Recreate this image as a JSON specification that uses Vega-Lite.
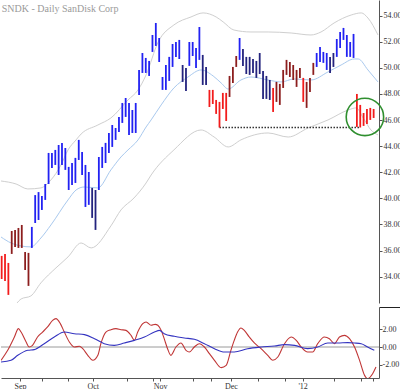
{
  "$schema": "https://vega.github.io/schema/vega-lite/v6.json",
  "padding": 0,
  "spacing": 0,
  "background": "white",
  "config": {
    "view": {"stroke": null},
    "font": "Liberation Serif",
    "axis": {"grid": false, "title": null, "labelFont": "Liberation Serif", "labelFontSize": 8, "labelColor": "#333", "domainColor": "#555", "tickColor": "#555", "labelOverlap": false}
  },
  "datasets": {
    "bars": [
      {"d":0,"hi":35.59,"lo":33.82,"t":"dn"},{"d":1,"hi":35.74,"lo":33.67,"t":"dn"},{"d":2,"hi":35.05,"lo":32.60,"t":"dn"},
      {"d":3,"hi":37.50,"lo":35.74,"t":"dn2"},{"d":4,"hi":37.58,"lo":36.28,"t":"dn2"},{"d":5,"hi":37.73,"lo":36.20,"t":"dn2"},
      {"d":6,"hi":37.96,"lo":36.20,"t":"dn2"},{"d":7,"hi":35.89,"lo":34.51,"t":"dn2"},{"d":8,"hi":35.82,"lo":33.29,"t":"dn2"},
      {"d":9,"hi":37.81,"lo":36.20,"t":"up"},{"d":10,"hi":40.25,"lo":38.11,"t":"up"},{"d":11,"hi":40.48,"lo":38.34,"t":"up"},
      {"d":12,"hi":40.18,"lo":39.11,"t":"up"},{"d":13,"hi":41.10,"lo":39.88,"t":"up"},{"d":14,"hi":43.48,"lo":41.10,"t":"up"},
      {"d":15,"hi":43.48,"lo":42.33,"t":"up"},{"d":16,"hi":43.71,"lo":42.56,"t":"up"},{"d":17,"hi":44.09,"lo":41.79,"t":"up"},
      {"d":18,"hi":44.25,"lo":42.56,"t":"up"},{"d":19,"hi":43.86,"lo":42.18,"t":"up"},{"d":20,"hi":42.41,"lo":40.64,"t":"up"},
      {"d":21,"hi":42.71,"lo":41.03,"t":"up"},{"d":22,"hi":43.10,"lo":41.18,"t":"up"},{"d":23,"hi":44.48,"lo":42.94,"t":"up"},
      {"d":24,"hi":43.56,"lo":41.79,"t":"up"},{"d":25,"hi":42.56,"lo":39.34,"t":"up"},{"d":26,"hi":42.02,"lo":39.50,"t":"up"},
      {"d":27,"hi":40.80,"lo":38.50,"t":"up2"},{"d":28,"hi":40.64,"lo":37.58,"t":"up2"},{"d":29,"hi":43.17,"lo":40.64,"t":"up"},
      {"d":30,"hi":43.94,"lo":42.33,"t":"up"},{"d":31,"hi":44.25,"lo":42.71,"t":"up"},{"d":32,"hi":45.01,"lo":43.48,"t":"up"},
      {"d":33,"hi":45.62,"lo":43.94,"t":"up"},{"d":34,"hi":45.39,"lo":44.48,"t":"up"},{"d":35,"hi":46.24,"lo":45.09,"t":"up"},
      {"d":36,"hi":47.31,"lo":45.78,"t":"up"},{"d":37,"hi":47.69,"lo":46.24,"t":"up"},{"d":38,"hi":47.31,"lo":44.86,"t":"up"},
      {"d":39,"hi":46.77,"lo":45.01,"t":"up"},{"d":40,"hi":47.31,"lo":45.01,"t":"up"},{"d":41,"hi":49.84,"lo":47.92,"t":"up"},
      {"d":42,"hi":51.14,"lo":49.61,"t":"up"},{"d":43,"hi":50.76,"lo":49.61,"t":"up"},{"d":44,"hi":50.53,"lo":49.38,"t":"up"},
      {"d":45,"hi":52.52,"lo":51.22,"t":"up"},{"d":46,"hi":53.44,"lo":51.68,"t":"up"},{"d":47,"hi":52.29,"lo":50.45,"t":"up"},
      {"d":48,"hi":49.30,"lo":48.31,"t":"up"},{"d":49,"hi":50.22,"lo":48.31,"t":"up"},{"d":50,"hi":50.84,"lo":49.00,"t":"up"},
      {"d":51,"hi":51.83,"lo":50.07,"t":"up"},{"d":52,"hi":51.98,"lo":50.84,"t":"up"},{"d":53,"hi":52.14,"lo":50.68,"t":"up"},
      {"d":54,"hi":50.22,"lo":48.92,"t":"up2"},{"d":55,"hi":49.99,"lo":48.23,"t":"up2"},{"d":56,"hi":51.98,"lo":50.15,"t":"up"},
      {"d":57,"hi":51.98,"lo":50.91,"t":"up"},{"d":58,"hi":51.52,"lo":49.99,"t":"up"},{"d":59,"hi":53.13,"lo":50.61,"t":"up"},
      {"d":60,"hi":50.99,"lo":48.69,"t":"up2"},{"d":61,"hi":50.07,"lo":48.69,"t":"up2"},{"d":62,"hi":48.31,"lo":47.00,"t":"dn"},
      {"d":63,"hi":48.31,"lo":47.23,"t":"dn"},{"d":64,"hi":47.54,"lo":46.47,"t":"dn"},{"d":65,"hi":47.39,"lo":45.43,"t":"dn"},
      {"d":66,"hi":48.08,"lo":46.85,"t":"dn"},{"d":67,"hi":48.08,"lo":45.93,"t":"dn"},{"d":68,"hi":49.38,"lo":47.77,"t":"dn2"},
      {"d":69,"hi":50.07,"lo":48.84,"t":"dn2"},{"d":70,"hi":50.91,"lo":50.07,"t":"dn2"},{"d":71,"hi":52.29,"lo":50.61,"t":"up"},
      {"d":72,"hi":51.45,"lo":50.15,"t":"up2"},{"d":73,"hi":50.84,"lo":49.53,"t":"up2"},{"d":74,"hi":50.84,"lo":49.46,"t":"up2"},
      {"d":75,"hi":50.68,"lo":49.61,"t":"up2"},{"d":76,"hi":50.53,"lo":49.23,"t":"up2"},{"d":77,"hi":51.14,"lo":49.53,"t":"up2"},
      {"d":78,"hi":49.76,"lo":47.62,"t":"up2"},{"d":79,"hi":49.38,"lo":47.62,"t":"up2"},{"d":80,"hi":49.07,"lo":47.54,"t":"up2"},
      {"d":81,"hi":48.46,"lo":46.62,"t":"dn"},{"d":82,"hi":48.92,"lo":47.39,"t":"dn2"},{"d":83,"hi":48.77,"lo":47.16,"t":"dn2"},
      {"d":84,"hi":49.84,"lo":48.46,"t":"dn2"},{"d":85,"hi":50.61,"lo":49.46,"t":"dn2"},{"d":86,"hi":50.45,"lo":49.30,"t":"dn2"},
      {"d":87,"hi":50.22,"lo":49.07,"t":"dn2"},{"d":88,"hi":49.84,"lo":48.54,"t":"dn2"},{"d":89,"hi":49.99,"lo":49.23,"t":"dn2"},
      {"d":90,"hi":49.23,"lo":47.39,"t":"dn"},{"d":91,"hi":48.92,"lo":46.93,"t":"dn2"},{"d":92,"hi":49.23,"lo":48.15,"t":"dn2"},
      {"d":93,"hi":50.38,"lo":49.46,"t":"dn2"},{"d":94,"hi":51.14,"lo":50.07,"t":"up"},{"d":95,"hi":51.60,"lo":50.45,"t":"up"},
      {"d":96,"hi":51.22,"lo":50.38,"t":"up"},{"d":97,"hi":51.14,"lo":49.84,"t":"up"},{"d":98,"hi":50.84,"lo":49.61,"t":"up2"},
      {"d":99,"hi":51.14,"lo":50.07,"t":"up2"},{"d":100,"hi":52.21,"lo":50.84,"t":"up"},{"d":101,"hi":52.75,"lo":51.52,"t":"up"},
      {"d":102,"hi":53.06,"lo":52.14,"t":"up"},{"d":103,"hi":52.52,"lo":50.84,"t":"up"},{"d":104,"hi":51.98,"lo":50.84,"t":"up"},
      {"d":105,"hi":52.60,"lo":50.76,"t":"up"},{"d":106,"hi":48.00,"lo":45.47,"t":"dn"},{"d":107,"hi":47.16,"lo":45.43,"t":"dn"},
      {"d":108,"hi":46.54,"lo":45.55,"t":"dn"},{"d":109,"hi":46.85,"lo":45.70,"t":"dn"},{"d":110,"hi":46.93,"lo":46.01,"t":"dn"},
      {"d":111,"hi":46.85,"lo":46.16,"t":"dn"}
    ],
    "bands": [
      {"d":-0.2,"v":41.33,"band":"upper"},{"d":4.3,"v":41.10,"band":"upper"},{"d":7.8,"v":40.72,"band":"upper"},{"d":11.7,"v":40.80,"band":"upper"},
      {"d":14.7,"v":41.41,"band":"upper"},{"d":17.7,"v":42.56,"band":"upper"},{"d":19.8,"v":43.71,"band":"upper"},{"d":22.2,"v":44.48,"band":"upper"},
      {"d":23.7,"v":44.93,"band":"upper"},{"d":28.7,"v":45.62,"band":"upper"},{"d":32.6,"v":46.16,"band":"upper"},{"d":37.7,"v":47.54,"band":"upper"},
      {"d":40.7,"v":48.31,"band":"upper"},{"d":43.1,"v":49.46,"band":"upper"},{"d":46.7,"v":51.98,"band":"upper"},{"d":51.4,"v":53.29,"band":"upper"},
      {"d":56.5,"v":53.90,"band":"upper"},{"d":60.1,"v":54.21,"band":"upper"},{"d":64.0,"v":53.90,"band":"upper"},{"d":66.1,"v":53.52,"band":"upper"},
      {"d":69.3,"v":52.90,"band":"upper"},{"d":74.4,"v":52.75,"band":"upper"},{"d":79.5,"v":52.75,"band":"upper"},{"d":86.4,"v":52.67,"band":"upper"},
      {"d":92.3,"v":52.52,"band":"upper"},{"d":95.3,"v":52.75,"band":"upper"},{"d":99.2,"v":53.44,"band":"upper"},{"d":104.3,"v":54.05,"band":"upper"},
      {"d":107.3,"v":54.21,"band":"upper"},{"d":109.3,"v":53.82,"band":"upper"},{"d":112.3,"v":52.52,"band":"upper"},
      {"d":-0.2,"v":37.04,"band":"mid"},{"d":2.8,"v":36.58,"band":"mid"},{"d":5.8,"v":36.35,"band":"mid"},{"d":8.7,"v":36.28,"band":"mid"},
      {"d":11.7,"v":36.96,"band":"mid"},{"d":14.7,"v":37.96,"band":"mid"},{"d":19.8,"v":39.88,"band":"mid"},{"d":22.2,"v":40.64,"band":"mid"},
      {"d":24.6,"v":40.87,"band":"mid"},{"d":28.7,"v":40.80,"band":"mid"},{"d":32.6,"v":42.18,"band":"mid"},{"d":35.6,"v":43.17,"band":"mid"},
      {"d":37.7,"v":43.71,"band":"mid"},{"d":40.7,"v":44.48,"band":"mid"},{"d":43.1,"v":45.47,"band":"mid"},{"d":44.6,"v":46.01,"band":"mid"},
      {"d":47.6,"v":47.16,"band":"mid"},{"d":51.4,"v":48.46,"band":"mid"},{"d":55.6,"v":49.30,"band":"mid"},{"d":59.5,"v":49.84,"band":"mid"},
      {"d":63.1,"v":49.38,"band":"mid"},{"d":65.5,"v":48.84,"band":"mid"},{"d":67.6,"v":48.38,"band":"mid"},{"d":71.4,"v":49.07,"band":"mid"},
      {"d":74.4,"v":49.30,"band":"mid"},{"d":79.5,"v":49.07,"band":"mid"},{"d":83.4,"v":48.92,"band":"mid"},{"d":87.3,"v":49.15,"band":"mid"},
      {"d":92.3,"v":49.07,"band":"mid"},{"d":97.4,"v":49.69,"band":"mid"},{"d":101.3,"v":50.22,"band":"mid"},{"d":105.2,"v":50.68,"band":"mid"},
      {"d":106.4,"v":50.68,"band":"mid"},{"d":109.3,"v":49.84,"band":"mid"},{"d":112.3,"v":48.92,"band":"mid"},
      {"d":4.5,"v":31.95,"band":"lower"},{"d":5.8,"v":32.29,"band":"lower"},{"d":8.7,"v":32.52,"band":"lower"},{"d":11.7,"v":33.52,"band":"lower"},
      {"d":16.2,"v":34.67,"band":"lower"},{"d":19.8,"v":35.51,"band":"lower"},{"d":23.7,"v":36.58,"band":"lower"},{"d":26.7,"v":36.20,"band":"lower"},
      {"d":32.6,"v":37.89,"band":"lower"},{"d":35.6,"v":39.11,"band":"lower"},{"d":39.5,"v":40.03,"band":"lower"},{"d":43.1,"v":41.18,"band":"lower"},
      {"d":44.6,"v":41.79,"band":"lower"},{"d":51.4,"v":43.71,"band":"lower"},{"d":59.5,"v":45.24,"band":"lower"},{"d":63.4,"v":44.70,"band":"lower"},
      {"d":67.6,"v":43.94,"band":"lower"},{"d":71.4,"v":44.48,"band":"lower"},{"d":79.5,"v":45.01,"band":"lower"},{"d":85.5,"v":44.70,"band":"lower"},
      {"d":91.4,"v":45.39,"band":"lower"},{"d":97.4,"v":46.01,"band":"lower"},{"d":103.4,"v":46.77,"band":"lower"},{"d":105.8,"v":46.93,"band":"lower"},
      {"d":107.9,"v":46.16,"band":"lower"},{"d":110.2,"v":45.24,"band":"lower"},{"d":112.3,"v":44.86,"band":"lower"}
    ],
    "support": [{"from": 65, "to": 107, "level": 45.43}],
    "highlight": [{"d": 108.4, "p": 46.24}],
    "osc": [
      {"d":-0.2,"v":-1.52,"s":"fast"},{"d":1.8,"v":-0.38,"s":"fast"},{"d":3.8,"v":1.14,"s":"fast"},{"d":5.0,"v":2.10,"s":"fast"},
      {"d":5.8,"v":1.71,"s":"fast"},{"d":7.3,"v":0.57,"s":"fast"},{"d":8.2,"v":0.0,"s":"fast"},{"d":9.2,"v":0.19,"s":"fast"},
      {"d":10.7,"v":1.14,"s":"fast"},{"d":12.2,"v":1.71,"s":"fast"},{"d":13.7,"v":2.29,"s":"fast"},{"d":15.2,"v":3.05,"s":"fast"},
      {"d":16.2,"v":3.24,"s":"fast"},{"d":17.5,"v":2.67,"s":"fast"},{"d":18.7,"v":1.71,"s":"fast"},{"d":20.2,"v":0.57,"s":"fast"},
      {"d":21.7,"v":0.0,"s":"fast"},{"d":23.2,"v":0.08,"s":"fast"},{"d":24.2,"v":-0.19,"s":"fast"},{"d":25.7,"v":-0.95,"s":"fast"},
      {"d":27.2,"v":-1.52,"s":"fast"},{"d":28.7,"v":-0.95,"s":"fast"},{"d":29.6,"v":0.38,"s":"fast"},{"d":31.1,"v":1.71,"s":"fast"},
      {"d":32.6,"v":1.98,"s":"fast"},{"d":34.1,"v":2.10,"s":"fast"},{"d":35.6,"v":1.98,"s":"fast"},{"d":37.1,"v":1.90,"s":"fast"},
      {"d":38.6,"v":1.33,"s":"fast"},{"d":39.6,"v":0.76,"s":"fast"},{"d":40.6,"v":1.71,"s":"fast"},{"d":42.1,"v":2.67,"s":"fast"},
      {"d":43.1,"v":2.86,"s":"fast"},{"d":44.6,"v":2.48,"s":"fast"},{"d":45.8,"v":2.59,"s":"fast"},{"d":46.6,"v":2.48,"s":"fast"},
      {"d":47.6,"v":1.90,"s":"fast"},{"d":48.5,"v":0.95,"s":"fast"},{"d":49.5,"v":-0.19,"s":"fast"},{"d":50.5,"v":-0.95,"s":"fast"},
      {"d":52.0,"v":0.0,"s":"fast"},{"d":53.5,"v":0.46,"s":"fast"},{"d":55.0,"v":-0.38,"s":"fast"},{"d":56.0,"v":-0.57,"s":"fast"},
      {"d":57.5,"v":0.0,"s":"fast"},{"d":59.0,"v":0.38,"s":"fast"},{"d":60.5,"v":0.0,"s":"fast"},{"d":62.0,"v":-0.76,"s":"fast"},
      {"d":63.5,"v":-1.52,"s":"fast"},{"d":65.5,"v":-2.36,"s":"fast"},{"d":67.0,"v":-2.10,"s":"fast"},{"d":68.4,"v":-0.38,"s":"fast"},
      {"d":69.4,"v":0.76,"s":"fast"},{"d":70.4,"v":1.71,"s":"fast"},{"d":71.4,"v":2.17,"s":"fast"},{"d":72.4,"v":1.90,"s":"fast"},
      {"d":73.9,"v":1.14,"s":"fast"},{"d":75.4,"v":0.46,"s":"fast"},{"d":77.4,"v":-0.19,"s":"fast"},{"d":79.4,"v":-0.95,"s":"fast"},
      {"d":80.9,"v":-1.52,"s":"fast"},{"d":82.4,"v":-1.14,"s":"fast"},{"d":84.4,"v":0.38,"s":"fast"},{"d":86.4,"v":1.14,"s":"fast"},
      {"d":87.9,"v":0.76,"s":"fast"},{"d":89.4,"v":0.0,"s":"fast"},{"d":91.3,"v":-0.57,"s":"fast"},{"d":92.8,"v":-0.57,"s":"fast"},
      {"d":94.3,"v":0.38,"s":"fast"},{"d":96.3,"v":1.14,"s":"fast"},{"d":97.8,"v":0.95,"s":"fast"},{"d":99.3,"v":0.38,"s":"fast"},
      {"d":100.8,"v":1.14,"s":"fast"},{"d":102.3,"v":1.33,"s":"fast"},{"d":103.8,"v":0.95,"s":"fast"},{"d":105.3,"v":0.0,"s":"fast"},
      {"d":106.8,"v":-1.52,"s":"fast"},{"d":108.3,"v":-3.24,"s":"fast"},{"d":109.2,"v":-3.62,"s":"fast"},{"d":110.7,"v":-3.05,"s":"fast"},
      {"d":111.7,"v":-2.29,"s":"fast"},
      {"d":-0.2,"v":-1.71,"s":"slow"},{"d":2.8,"v":-1.52,"s":"slow"},{"d":4.8,"v":-0.95,"s":"slow"},{"d":7.8,"v":-0.38,"s":"slow"},
      {"d":9.7,"v":-0.30,"s":"slow"},{"d":12.7,"v":0.38,"s":"slow"},{"d":15.7,"v":1.14,"s":"slow"},{"d":18.7,"v":1.71,"s":"slow"},
      {"d":21.7,"v":1.52,"s":"slow"},{"d":24.7,"v":1.41,"s":"slow"},{"d":27.7,"v":0.95,"s":"slow"},{"d":30.6,"v":0.38,"s":"slow"},
      {"d":33.6,"v":0.19,"s":"slow"},{"d":36.6,"v":0.46,"s":"slow"},{"d":39.6,"v":0.76,"s":"slow"},{"d":42.6,"v":1.14,"s":"slow"},
      {"d":45.6,"v":1.71,"s":"slow"},{"d":47.1,"v":1.90,"s":"slow"},{"d":48.5,"v":1.52,"s":"slow"},{"d":51.5,"v":1.22,"s":"slow"},
      {"d":54.5,"v":1.03,"s":"slow"},{"d":57.5,"v":0.88,"s":"slow"},{"d":60.5,"v":0.38,"s":"slow"},{"d":63.5,"v":-0.19,"s":"slow"},
      {"d":66.5,"v":-0.57,"s":"slow"},{"d":69.4,"v":-0.57,"s":"slow"},{"d":73.4,"v":-0.19,"s":"slow"},{"d":77.4,"v":0.0,"s":"slow"},
      {"d":81.4,"v":0.11,"s":"slow"},{"d":84.4,"v":0.27,"s":"slow"},{"d":87.4,"v":0.19,"s":"slow"},{"d":91.3,"v":-0.19,"s":"slow"},
      {"d":94.3,"v":0.0,"s":"slow"},{"d":97.3,"v":0.46,"s":"slow"},{"d":100.3,"v":0.46,"s":"slow"},{"d":103.3,"v":0.50,"s":"slow"},
      {"d":105.3,"v":0.46,"s":"slow"},{"d":107.3,"v":0.38,"s":"slow"},{"d":109.2,"v":0.0,"s":"slow"},{"d":111.2,"v":-0.38,"s":"slow"}
    ]
  },
  "vconcat": [
    {
      "width": 378,
      "height": 303,
      "title": {"text": "SNDK - Daily  SanDisk Corp", "anchor": "start", "orient": "top", "offset": -14, "baseline": "top", "fontSize": 10, "fontWeight": "normal", "color": "#9a9a9a", "font": "Liberation Serif", "dx": 1},
      "encoding": {
        "x": {"type": "quantitative", "scale": {"domain": [-0.2, 112.6], "nice": false, "zero": false}, "axis": null},
        "y": {"type": "quantitative", "scale": {"domain": [31.98, 55.2], "nice": false, "zero": false},
              "axis": {"orient": "right", "values": [34,36,38,40,42,44,46,48,50,52,54], "format": ".2f", "tickSize": 3, "labelPadding": 1, "labelOverlap": false}}
      },
      "layer": [
        {
          "data": {"name": "bands"},
          "mark": {"type": "line", "strokeWidth": 1, "clip": true, "interpolate": "monotone"},
          "encoding": {
            "x": {"field": "d"},
            "y": {"field": "v"},
            "color": {"field": "band", "type": "nominal", "scale": {"domain": ["upper", "mid", "lower"], "range": ["#cfcfcf", "#a9c9ee", "#cfcfcf"]}, "legend": null}
          }
        },
        {
          "data": {"name": "support"},
          "mark": {"type": "rule", "strokeDash": [1.5, 1.5], "strokeWidth": 1.6, "color": "#333"},
          "encoding": {
            "x": {"field": "from"},
            "x2": {"field": "to"},
            "y": {"field": "level"}
          }
        },
        {
          "data": {"name": "bars"},
          "mark": {"type": "rule", "strokeWidth": 1.8},
          "encoding": {
            "x": {"field": "d"},
            "y": {"field": "lo"},
            "y2": {"field": "hi"},
            "color": {"field": "t", "type": "nominal", "scale": {"domain": ["up", "up2", "dn", "dn2"], "range": ["#2222f2", "#23237e", "#f21c1c", "#8c1e1e"]}, "legend": null}
          }
        },
        {
          "data": {"name": "highlight"},
          "mark": {"type": "point", "shape": "circle", "filled": false, "size": 1400, "stroke": "#2f8f2f", "strokeWidth": 1.6, "opacity": 1},
          "encoding": {
            "x": {"field": "d"},
            "y": {"field": "p"}
          }
        }
      ],
      "resolve": {"scale": {"color": "independent"}}
    },
    {
      "width": 378,
      "height": 71,
      "encoding": {
        "x": {"type": "quantitative", "scale": {"domain": [-0.2, 112.6], "nice": false, "zero": false},
              "axis": {"values": [5.5, 11.9, 19.7, 27.2, 37.4, 45.1, 47.3, 57.0, 62.5, 68.4, 76.4, 84.4, 89.8, 99.3, 107.3, 110.7], "labelExpr": "datum.value == 5.5 ? 'Sep' : datum.value == 27.2 ? 'Oct' : datum.value == 47.3 ? 'Nov' : datum.value == 68.4 ? 'Dec' : datum.value == 89.8 ? \"'12\" : ''", "tickSize": 3, "labelPadding": 1, "labelFlush": false, "labelOverlap": false}},
        "y": {"type": "quantitative", "scale": {"domain": [-3.54, 4.57], "nice": false, "zero": false},
              "axis": {"orient": "right", "values": [-2, 0, 2, 4.57], "labelExpr": "datum.value > 4 ? '' : datum.value < 0 ? '-' + format(-datum.value, '.2f') : format(datum.value, '.2f')", "tickSize": {"condition": {"test": "datum.value > 4", "value": 23}, "value": 3}, "tickColor": {"condition": {"test": "datum.value > 4", "value": "#222"}, "value": "#555"}, "labelPadding": 0, "labelOverlap": false}}
      },
      "layer": [
        {
          "data": {"values": [{"level": 0}]},
          "mark": {"type": "rule", "color": "#9a9a9a", "strokeWidth": 1},
          "encoding": {"y": {"field": "level"}}
        },
        {
          "data": {"name": "osc"},
          "mark": {"type": "line", "strokeWidth": 1.1, "interpolate": "monotone", "clip": true},
          "encoding": {
            "x": {"field": "d"},
            "y": {"field": "v"},
            "color": {"field": "s", "type": "nominal", "scale": {"domain": ["fast", "slow"], "range": ["#c03636", "#3434c0"]}, "legend": null}
          }
        }
      ]
    }
  ]
}
